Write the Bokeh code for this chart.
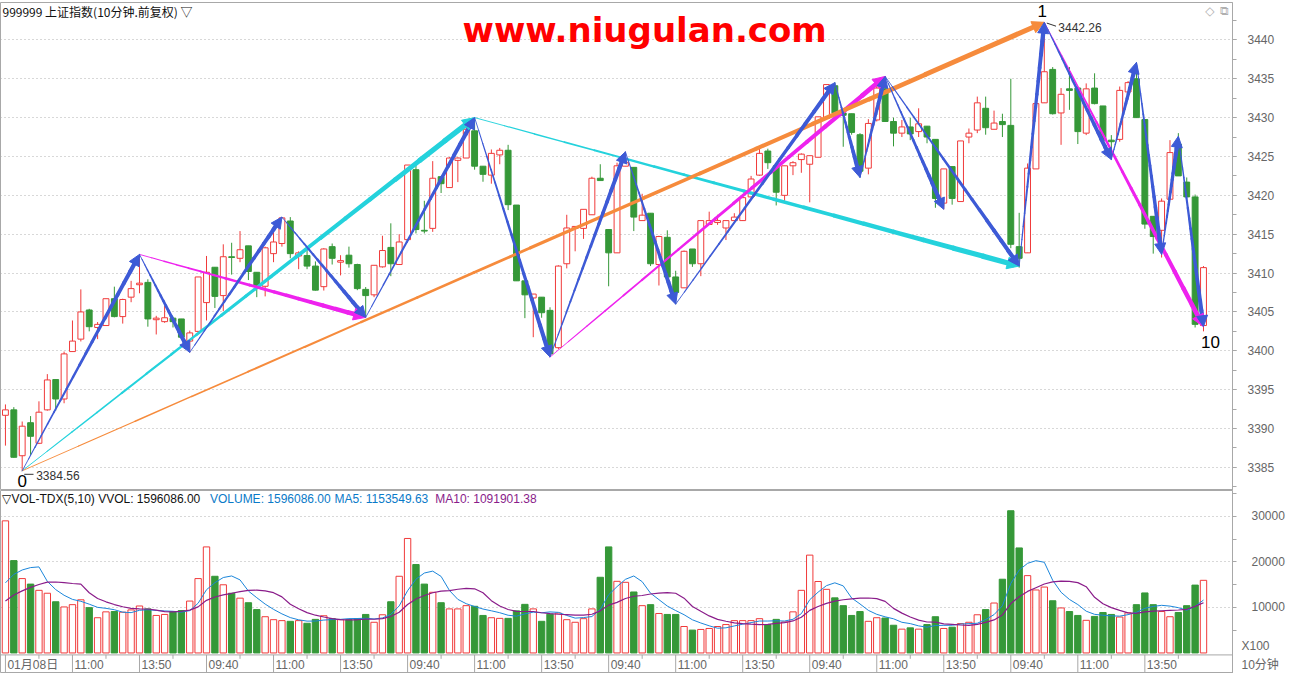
import numpy as np
from bokeh.plotting import figure
from bokeh.layouts import column
from bokeh.models import Range1d, FixedTicker, Arrow, NormalHead, Span
from bokeh.embed import file_html
from bokeh.resources import INLINE
from bokeh.core.properties import value

# ---------------- data (10-minute bars, 6 sessions x 24 bars) ----------------
opens = [3391.7, 3392.4, 3386.5, 3390.75, 3388.1, 3392.4, 3396.3, 3393.8, 3399.9, 3401.5,
         3405.25, 3403.0, 3403.25, 3406.7, 3404.4, 3406.9, 3408.5, 3408.8, 3404.0, 3403.75,
         3404.2, 3404.1, 3401.25, 3402.5, 3406.2, 3410.75, 3407.1, 3412.1, 3411.9, 3413.5,
         3410.1, 3408.3, 3412.5, 3413.8, 3416.7, 3412.2, 3412.25, 3410.9, 3408.25, 3413.4,
         3411.4, 3412.3, 3411.1, 3407.9, 3407.2, 3410.8, 3413.3, 3411.1, 3414.3, 3423.3,
         3415.5, 3415.75, 3422.4, 3421.0, 3424.5, 3424.8, 3428.3, 3423.75, 3422.6, 3425.2,
         3425.8, 3418.75, 3409.0, 3406.8, 3406.9, 3405.2, 3400.4, 3411.2, 3415.75, 3415.75,
         3417.5, 3422.2, 3415.6, 3412.6, 3423.75, 3423.6, 3416.75, 3417.7, 3411.1, 3414.6,
         3409.5, 3408.1, 3413.1, 3411.2, 3416.25, 3416.5, 3415.8, 3416.75, 3416.75, 3419.8,
         3422.6, 3425.7, 3423.8, 3420.0, 3423.8, 3424.6, 3424.0, 3424.9, 3429.9, 3434.1,
         3430.6, 3430.5, 3427.8, 3423.5, 3429.7, 3433.7, 3429.5, 3428.0, 3428.8, 3428.2,
         3428.9, 3427.2, 3419.0, 3423.7, 3419.2, 3427.5, 3428.4, 3431.2, 3428.5, 3429.5,
         3429.0, 3413.4, 3412.6, 3423.4, 3431.9, 3436.2, 3430.6, 3433.7, 3433.8, 3428.0,
         3433.8, 3431.5, 3427.1, 3427.2, 3433.3, 3435.0, 3429.75, 3417.3, 3415.5, 3419.5,
         3426.6, 3421.7, 3419.8, 3403.25]
highs = [3393.1, 3392.75, 3390.9, 3391.6, 3393.5, 3397.0, 3396.3, 3399.9, 3403.9, 3407.9,
         3405.4, 3403.7, 3406.7, 3408.25, 3406.7, 3409.0, 3412.4, 3409.2, 3404.5, 3405.75,
         3404.4, 3404.1, 3402.6, 3409.5, 3412.2, 3410.75, 3413.7, 3413.9, 3415.4, 3413.5,
         3410.1, 3413.4, 3415.9, 3417.2, 3417.2, 3412.8, 3413.0, 3411.5, 3413.2, 3413.8,
         3412.3, 3413.4, 3411.2, 3408.2, 3411.0, 3414.8, 3416.4, 3415.0, 3423.9, 3424.0,
         3419.3, 3424.4, 3422.4, 3424.9, 3424.9, 3429.0, 3430.0, 3423.75, 3425.9, 3426.1,
         3426.5, 3418.75, 3409.0, 3407.3, 3406.9, 3405.6, 3411.0, 3417.5, 3416.0, 3418.2,
         3422.4, 3424.0, 3415.6, 3424.2, 3425.6, 3423.6, 3420.2, 3417.7, 3414.8, 3415.5,
         3410.3, 3412.9, 3413.1, 3416.75, 3417.9, 3417.5, 3416.75, 3417.7, 3419.8, 3422.5,
         3426.3, 3426.0, 3423.9, 3423.8, 3424.4, 3425.4, 3425.1, 3430.1, 3434.3, 3434.5,
         3430.6, 3430.5, 3428.0, 3429.8, 3435.0, 3435.3, 3430.0, 3429.7, 3430.0, 3431.2,
         3428.9, 3427.2, 3423.4, 3423.7, 3427.0, 3428.6, 3432.7, 3432.7, 3430.9, 3430.5,
         3435.0, 3417.75, 3424.1, 3431.8, 3442.26, 3436.5, 3433.8, 3436.5, 3433.8, 3434.4,
         3435.7, 3431.5, 3427.75, 3434.0, 3434.7, 3437.1, 3429.75, 3417.3, 3419.6, 3427.1,
         3428.0, 3422.3, 3420.1, 3410.9]
lows = [3387.8, 3386.25, 3384.56, 3386.6, 3388.0, 3392.3, 3392.3, 3393.25, 3399.9, 3401.2,
        3402.5, 3401.5, 3403.2, 3404.3, 3403.5, 3406.25, 3407.4, 3403.1, 3402.1, 3403.6,
        3403.0, 3401.7, 3399.8, 3402.4, 3403.9, 3405.5, 3405.1, 3409.8, 3411.4, 3409.1,
        3406.9, 3407.0, 3411.4, 3413.4, 3411.9, 3410.5, 3410.5, 3407.75, 3407.75, 3411.1,
        3409.7, 3410.7, 3407.8, 3404.3, 3406.9, 3410.7, 3409.6, 3411.1, 3414.2, 3415.1,
        3415.1, 3415.3, 3420.3, 3421.0, 3421.7, 3424.8, 3423.3, 3421.75, 3421.5, 3424.0,
        3418.1, 3409.0, 3404.2, 3401.75, 3404.25, 3399.2, 3400.2, 3410.6, 3412.8, 3414.4,
        3417.5, 3421.9, 3408.3, 3412.6, 3423.75, 3415.4, 3416.75, 3410.9, 3408.4, 3409.5,
        3406.0, 3408.1, 3410.8, 3409.6, 3416.2, 3416.2, 3414.25, 3416.7, 3416.7, 3419.7,
        3422.5, 3423.4, 3418.7, 3419.3, 3422.6, 3422.9, 3419.1, 3424.9, 3429.9, 3430.2,
        3426.25, 3427.8, 3422.3, 3422.7, 3429.5, 3429.5, 3426.3, 3427.5, 3427.1, 3427.5,
        3426.7, 3418.4, 3418.2, 3418.8, 3419.2, 3426.7, 3428.0, 3427.8, 3428.5, 3427.5,
        3413.2, 3410.7, 3412.6, 3423.4, 3431.9, 3430.4, 3426.5, 3431.0, 3426.6, 3427.75,
        3431.7, 3426.7, 3424.6, 3426.9, 3433.0, 3430.0, 3415.7, 3412.5, 3412.0, 3419.5,
        3422.5, 3419.8, 3403.0, 3402.5]
closes = [3392.4, 3386.3, 3390.3, 3389.0, 3392.1, 3396.25, 3393.8, 3399.6, 3401.25, 3405.0,
          3403.1, 3403.4, 3406.7, 3404.4, 3406.6, 3408.0, 3408.7, 3404.1, 3404.2, 3404.25,
          3403.75, 3401.75, 3402.3, 3409.5, 3410.1, 3407.0, 3412.1, 3412.0, 3413.0, 3410.2,
          3408.3, 3413.25, 3414.0, 3417.1, 3412.5, 3412.6, 3410.9, 3407.8, 3413.1, 3411.9,
          3411.6, 3411.2, 3408.0, 3407.1, 3411.0, 3412.9, 3411.2, 3414.0, 3423.9, 3415.6,
          3415.4, 3422.2, 3421.5, 3424.8, 3424.8, 3428.5, 3423.75, 3422.7, 3425.4, 3425.8,
          3418.8, 3409.0, 3407.2, 3407.3, 3404.9, 3399.6, 3410.9, 3415.8, 3416.0, 3418.2,
          3422.2, 3421.9, 3412.6, 3423.8, 3424.25, 3417.2, 3417.45, 3411.2, 3414.7, 3409.5,
          3407.5, 3412.8, 3411.2, 3416.75, 3416.75, 3416.75, 3416.75, 3417.2, 3419.7, 3422.1,
          3425.4, 3424.2, 3420.4, 3423.8, 3424.2, 3425.3, 3425.1, 3430.1, 3434.25, 3430.6,
          3430.3, 3428.1, 3423.1, 3429.25, 3433.8, 3429.5, 3428.0, 3428.8, 3427.9, 3429.2,
          3427.5, 3419.6, 3423.4, 3419.6, 3427.0, 3428.0, 3431.9, 3428.7, 3429.3, 3429.1,
          3413.7, 3411.9, 3423.5, 3431.8, 3435.9, 3430.5, 3433.0, 3433.5, 3428.2, 3433.7,
          3431.8, 3427.1, 3426.9, 3433.5, 3434.5, 3430.0, 3416.3, 3414.7, 3419.25, 3425.5,
          3422.5, 3419.8, 3403.4, 3410.7]
volumes = [29030, 20290, 16340, 15130, 13760, 13120, 11250, 10110, 10610, 11680,
           9960, 7740, 9030, 9100, 8960, 9460, 10320, 9680, 8240, 8460,
           9100, 9320, 11400, 16340, 23300, 16850, 14980, 13120, 12040, 11040,
           9530, 7960, 7310, 7100, 6950, 7100, 6520, 7380, 8170, 7530,
           7310, 7310, 7530, 8460, 6740, 8390, 11250, 16850, 25160, 19430,
           15130, 13330, 11040, 9680, 9680, 10390, 10250, 8240, 7740, 7600,
           7600, 9250, 10680, 9680, 6950, 8530, 8750, 7310, 6740, 7530,
           9680, 16630, 23300, 15740, 15520, 13400, 10390, 10610, 8670, 8460,
           8460, 5810, 5020, 5160, 5380, 5810, 6240, 7100, 7100, 7100,
           7530, 6240, 7380, 6810, 9030, 13760, 21500, 15700, 13980, 12110,
           10390, 8240, 9100, 6950, 7740, 7670, 6090, 5230, 5520, 5230,
           6240, 7960, 5380, 5660, 6450, 6740, 8390, 9530, 10970, 16200,
           31250, 23080, 16990, 13840, 14480, 11470, 9890, 9100, 8240, 7170,
           8030, 8890, 8460, 7890, 8820, 10610, 13190, 10610, 9100, 7960,
           8890, 10390, 14910, 15960.86]
# tail of the previous session (estimated from where the MA lines start)
prev_volumes = [7000, 7200, 7400, 7600, 7800, 11000, 11500, 12500, 13000]

# time-axis labels
day_labels = ["01月08日", "09:40", "09:40", "09:40", "09:40", "09:40"]
intraday_labels = ["11:00", "13:50"]

# wave pivots (bar index, price) and the arrows drawn between them
piv_bar = [2, 16, 22, 33, 43, 56, 65, 74, 80, 99, 102, 105, 112, 121, 124, 132, 135, 138, 140, 143]
piv_price = [3384.56, 3412.4, 3399.8, 3417.2, 3404.3, 3430.0, 3399.2, 3425.6, 3406.0, 3434.5,
             3422.3, 3435.3, 3418.2, 3410.9, 3442.26, 3424.6, 3437.1, 3412.4, 3427.6, 3403.1]
cyan_arrows = [(0, 5), (5, 13)]
magenta_arrows = [(1, 4), (6, 11), (14, 19)]
orange_arrows = [(0, 14)]
blue_arrows = [(0, 1), (1, 2), (2, 3), (3, 4), (4, 5), (5, 6), (6, 7), (7, 8), (8, 9), (9, 10),
               (10, 11), (11, 12), (11, 13), (13, 14), (14, 15), (15, 16), (16, 17), (17, 18), (18, 19)]

# ---------------- helpers ----------------
opens = np.array(opens); highs = np.array(highs); lows = np.array(lows); closes = np.array(closes)
vols = np.array(volumes, dtype=float)
n = len(opens)
idx = np.arange(n)
up = closes >= opens

RED = "#F03A3A"
GREEN = "#359838"
BLUE = "#3D5AD6"
CYAN = "#24D2DC"
MAGENTA = "#EE22EE"
ORANGE = "#F68B3C"
AXC = "#A8A8A8"
LBL = "#666666"
NB = "\u00a0"

FW = 1232            # frame width (px)
MAIN_H = 488
VOL_H = 183          # volume panel incl. the time-label row
RB = 51              # right border (axis strip)

# reference-pixel -> data helpers (layout only)
def xd(xr):
    return (xr - 5.0) / 8.48

def ym(yr):
    return 3440 - (yr - 40.3) / 7.964

def yv(yr):
    return (668 - yr) / 46.5 * 10000

x_range = Range1d(xd(0), xd(1247))
main_y = Range1d(ym(502), ym(2))
vol_y = Range1d(yv(689), yv(502))


def style_right_axis(ax, tick_out, standoff):
    ax.axis_line_color = AXC
    ax.major_tick_line_color = AXC
    ax.minor_tick_line_color = AXC
    ax.major_tick_in = 0
    ax.major_tick_out = tick_out
    ax.minor_tick_in = 0
    ax.minor_tick_out = 4
    ax.major_label_standoff = standoff
    ax.major_label_text_font = "Liberation Sans, Noto Sans CJK SC"
    ax.major_label_text_font_size = "12px"
    ax.major_label_text_color = LBL


# ---------------- main (candles) ----------------
p = figure(frame_width=FW, frame_height=MAIN_H, x_range=x_range, y_range=main_y,
           output_backend="svg", toolbar_location=None, tools="",
           x_axis_location=None, y_axis_location="right",
           min_border_top=2, min_border_bottom=0, min_border_left=0, min_border_right=RB,
           background_fill_color="white", border_fill_color="white")
p.outline_line_color = AXC
p.xgrid.visible = False
p.yaxis.ticker = FixedTicker(ticks=list(range(3385, 3441, 5)),
                             minor_ticks=list(np.arange(3382.5, 3445.0, 2.5)))
p.ygrid.grid_line_dash = "1 3"
p.ygrid.grid_line_color = "#B0B0B0"
style_right_axis(p.yaxis[0], 4, 11)

col = np.where(up, RED, GREEN)
fill = np.where(up, "white", GREEN)
p.segment(x0=idx, y0=lows, x1=idx, y1=highs, line_color=col, line_width=1)
p.vbar(x=idx, width=0.7, top=np.maximum(opens, closes), bottom=np.minimum(opens, closes),
       fill_color=fill, line_color=col, line_width=1)

PXX = FW / (x_range.end - x_range.start)
PXY = MAIN_H / (main_y.end - main_y.start)


def add_arrow(fig, a, b, color, w1, head=10, nseg=18, w0=0.8):
    x0, y0 = piv_bar[a], piv_price[a]
    x1, y1 = piv_bar[b], piv_price[b]
    L = np.hypot((x1 - x0) * PXX, (y1 - y0) * PXY)
    tend = 1 - 6.0 / L
    t = np.linspace(0, tend, nseg + 1)
    xs = x0 + (x1 - x0) * t
    ys = y0 + (y1 - y0) * t
    wid = w0 + (w1 - w0) * ((t[:-1] + t[1:]) / 2) / tend
    fig.segment(x0=xs[:-1], y0=ys[:-1], x1=xs[1:], y1=ys[1:], line_color=color,
                line_width=wid, line_cap="round")
    th = 1 - 14.0 / L
    fig.add_layout(Arrow(end=NormalHead(size=head, fill_color=color, line_color=color, line_width=1),
                         x_start=x0 + (x1 - x0) * th, y_start=y0 + (y1 - y0) * th,
                         x_end=x1, y_end=y1, line_alpha=0, line_color=color))


for a, b in cyan_arrows:
    add_arrow(p, a, b, CYAN, 5.5, head=12)
for a, b in magenta_arrows:
    add_arrow(p, a, b, MAGENTA, 4.8, head=12)
for a, b in orange_arrows:
    add_arrow(p, a, b, ORANGE, 5.2, head=12)
for a, b in blue_arrows:
    add_arrow(p, a, b, BLUE, 4.4, head=11)

# wave labels anchored at pivots
big = dict(text_font=value("Liberation Sans"), text_font_size="17px", text_color="black",
           text_align="center", text_baseline="middle")
p.text(x=[piv_bar[0]], y=[piv_price[0]], text=["0"], x_offset=0, y_offset=10, **big)
p.text(x=[piv_bar[14]], y=[piv_price[14]], text=["1"], x_offset=-2, y_offset=-11, **big)
p.text(x=[piv_bar[19]], y=[piv_price[19]], text=["10"], x_offset=7, y_offset=15, **big)
small = dict(text_font=value("Liberation Sans"), text_font_size="12px", text_color="#333333",
             text_align="left", text_baseline="middle")
p.text(x=[piv_bar[0]], y=[lows[2]], text=["%.2f" % lows[2]], x_offset=14, y_offset=5, **small)
p.text(x=[piv_bar[14]], y=[highs[124]], text=["%.2f" % highs[124]], x_offset=14, y_offset=5, **small)
p.segment(x0=[piv_bar[0] + 0.25], y0=[lows[2] - 0.45], x1=[piv_bar[0] + 1.35], y1=[lows[2] - 0.45],
          line_color="#333333", line_width=1)
p.segment(x0=[piv_bar[14] + 0.3], y0=[highs[124] - 0.1], x1=[piv_bar[14] + 1.4], y1=[highs[124] - 0.5],
          line_color="#333333", line_width=1)

# header and watermark
p.text(x=[xd(2)], y=[ym(11)], text=["999999 上证指数(10分钟.前复权) ▽"],
       text_font=value("Noto Sans CJK SC"), text_font_size="12px", text_color="#111111",
       text_align="left", text_baseline="middle")
p.text(x=[xd(652)], y=[ym(30)], text=["www.niugulan.com"],
       text_font=value("DejaVu Sans"), text_font_style="bold", text_font_size="34px",
       text_color="#FF0000", text_align="center", text_baseline="alphabetic")
p.text(x=[xd(1224), xd(1239)], y=[ym(11), ym(11)], text=["◇", "⧉"],
       text_font=value("DejaVu Sans"), text_font_size="12px", text_color="#B0B0B0",
       text_align="center", text_baseline="middle")

# ---------------- volume (with the time-label row at its bottom) ----------------
v = figure(frame_width=FW, frame_height=VOL_H, x_range=x_range, y_range=vol_y,
           output_backend="svg", toolbar_location=None, tools="",
           x_axis_location=None, y_axis_location="right",
           min_border_top=0, min_border_bottom=0, min_border_left=0, min_border_right=RB,
           background_fill_color="white", border_fill_color="white")
v.outline_line_color = AXC
v.xgrid.visible = False
tick_1000 = yv(661)
tick_unit = yv(680)
# tick marks are drawn as minor ticks so that the two unit labels carry no tick line
v.yaxis.ticker = FixedTicker(ticks=[tick_unit, tick_1000, 10000, 20000, 30000],
                             minor_ticks=[5000, 10000, 15000, 20000, 25000, 30000, 35000])
v.yaxis.major_label_overrides = {tick_unit: "10分钟", tick_1000: "X100",
                                 10000: NB * 3 + "10000", 20000: NB * 3 + "20000",
                                 30000: NB * 3 + "30000"}
v.ygrid.ticker = FixedTicker(ticks=[10000, 20000, 30000])
v.ygrid.grid_line_dash = "1 3"
v.ygrid.grid_line_color = "#B0B0B0"
style_right_axis(v.yaxis[0], 0, 5)

v.vbar(x=idx, width=0.76, top=vols, bottom=0, fill_color=fill, line_color=col, line_width=1)

allv = np.concatenate([np.array(prev_volumes, dtype=float), vols])
k0 = len(prev_volumes)
ma5 = np.array([allv[k0 + i - 4:k0 + i + 1].mean() for i in range(n)])
ma10 = np.array([allv[k0 + i - 9:k0 + i + 1].mean() for i in range(n)])
v.line(idx, ma5, line_color="#1C86DA", line_width=1)
v.line(idx, ma10, line_color="#8A1C8A", line_width=1.2)

hdr = dict(text_font=value("Liberation Sans"), text_font_size="12px", text_align="left",
           text_baseline="middle")
v.text(x=[xd(2)], y=[yv(511)], text=["▽VOL-TDX(5,10) VVOL: 1596086.00"], text_color="#111111", **hdr)
v.text(x=[xd(212)], y=[yv(511)], text=["VOLUME: 1596086.00"], text_color="#0A7AC8", **hdr)
v.text(x=[xd(338)], y=[yv(511)], text=["MA5: 1153549.63"], text_color="#0A7AC8", **hdr)
v.text(x=[xd(440)], y=[yv(511)], text=["MA10: 1091901.38"], text_color="#8A1C8A", **hdr)

# time row: separator, tick marks and labels placed on the shared x scale
v.add_layout(Span(location=yv(670), dimension="width", line_color=AXC, line_width=1))
major_t, minor_t, tlabels = [], [], []
for d in range(6):
    base = 24 * d
    major_t += [base, base + 8, base + 16]
    minor_t += [base + 4, base + 12, base + 20]
    tlabels += [day_labels[d], intraday_labels[0], intraday_labels[1]]
v.segment(x0=major_t, y0=[yv(670)] * len(major_t), x1=major_t, y1=[yv(689)] * len(major_t),
          line_color=AXC, line_width=1)
v.segment(x0=minor_t, y0=[yv(670)] * len(minor_t), x1=minor_t, y1=[yv(674)] * len(minor_t),
          line_color=AXC, line_width=1)
v.text(x=major_t, y=[yv(680)] * len(major_t), text=tlabels, x_offset=2,
       text_font=value("Liberation Sans, Noto Sans CJK SC"), text_font_size="12px",
       text_color=LBL, text_align="left", text_baseline="middle")

layout = column(p, v, spacing=0)
open("out.html", "w").write(file_html(layout, INLINE))
